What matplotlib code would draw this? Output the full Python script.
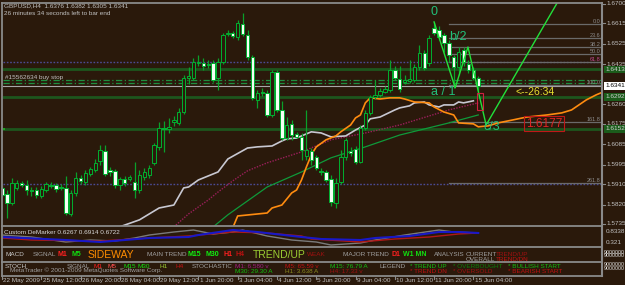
import matplotlib
matplotlib.use('Agg')
import matplotlib.pyplot as plt
from matplotlib.patches import Rectangle
from matplotlib.transforms import blended_transform_factory as blend

W, H = 625, 285
BG = '#2a190b'
plt.rcParams['font.family'] = ['Liberation Sans', 'DejaVu Sans']
NARROW = ['Liberation Sans Narrow', 'Liberation Sans', 'DejaVu Sans']

# ---------------- data ----------------
opens = [1.5893, 1.5867, 1.5827, 1.5893, 1.5915, 1.5906, 1.5884, 1.5884, 1.5858, 1.5884,
         1.5906, 1.5906, 1.5897, 1.5893, 1.5779, 1.5871, 1.5937, 1.5919, 1.5954, 1.5972,
         1.6011, 1.6055, 1.5972, 1.5968, 1.5906, 1.5932, 1.5932, 1.5919, 1.5884, 1.5941,
         1.5950, 1.6003, 1.6073, 1.6156, 1.6152, 1.6182, 1.6178, 1.6226, 1.6375, 1.6375,
         1.6441, 1.6441, 1.6437, 1.6441, 1.6375, 1.6446, 1.6568, 1.6573, 1.6555, 1.6612,
         1.6564, 1.6468, 1.6279, 1.6314, 1.6310, 1.6213, 1.6402, 1.6235, 1.6112, 1.6174,
         1.6130, 1.6117, 1.6033, 1.6055, 1.6029, 1.5968, 1.5963, 1.5932, 1.5827, 1.5919,
         1.6029, 1.6055, 1.6064, 1.6007, 1.6156, 1.6222, 1.6292, 1.6301, 1.6314, 1.6323,
         1.6411, 1.6371, 1.6358, 1.6362, 1.6367, 1.6424, 1.6485, 1.6441, 1.6595, 1.6586,
         1.6564, 1.6529, 1.6468, 1.6424, 1.6498, 1.6437, 1.6411, 1.6376]
highs = [1.5906, 1.5884, 1.5937, 1.5928, 1.5924, 1.5928, 1.5897, 1.5897, 1.5902, 1.5919,
         1.5919, 1.5915, 1.5910, 1.5946, 1.5884, 1.5963, 1.5950, 1.5972, 1.5985, 1.6020,
         1.6082, 1.6082, 1.5985, 1.5976, 1.5941, 1.5946, 1.5950, 1.6007, 1.5972, 1.5981,
         1.5994, 1.6090, 1.6182, 1.6187, 1.6200, 1.6209, 1.6244, 1.6389, 1.6424, 1.6463,
         1.6476, 1.6463, 1.6454, 1.6454, 1.6463, 1.6573, 1.6586, 1.6582, 1.6630, 1.6660,
         1.6586, 1.6476, 1.6323, 1.6332, 1.6323, 1.6411, 1.6411, 1.6275, 1.6204, 1.6191,
         1.6139, 1.6134, 1.6235, 1.6068, 1.6038, 1.5981, 1.5972, 1.5950, 1.5937, 1.6060,
         1.6112, 1.6073, 1.6077, 1.6169, 1.6235, 1.6301, 1.6367, 1.6332, 1.6340, 1.6454,
         1.6428, 1.6428, 1.6389, 1.6454, 1.6437, 1.6520, 1.6498, 1.6564, 1.6621, 1.6604,
         1.6573, 1.6542, 1.6476, 1.6511, 1.6511, 1.6454, 1.6424, 1.6382]
lows = [1.5854, 1.5761, 1.5818, 1.5884, 1.5897, 1.5862, 1.5858, 1.5849, 1.5849, 1.5875,
        1.5893, 1.5875, 1.5884, 1.5775, 1.5770, 1.5858, 1.5910, 1.5906, 1.5946, 1.5963,
        1.5994, 1.5946, 1.5946, 1.5893, 1.5884, 1.5902, 1.5924, 1.5849, 1.5871, 1.5928,
        1.5937, 1.5994, 1.6060, 1.6051, 1.6134, 1.6165, 1.6169, 1.6218, 1.6349, 1.6367,
        1.6428, 1.6411, 1.6419, 1.6358, 1.6323, 1.6437, 1.6560, 1.6551, 1.6542, 1.6560,
        1.6454, 1.6279, 1.6244, 1.6297, 1.6204, 1.6204, 1.6226, 1.6104, 1.6104, 1.6104,
        1.6112, 1.6016, 1.6016, 1.5994, 1.5972, 1.5950, 1.5919, 1.5814, 1.5805, 1.5910,
        1.6016, 1.6033, 1.5998, 1.6003, 1.6147, 1.6213, 1.6283, 1.6292, 1.6310, 1.6314,
        1.6367, 1.6314, 1.6349, 1.6353, 1.6358, 1.6411, 1.6411, 1.6428, 1.6564, 1.6542,
        1.6489, 1.6446, 1.6332, 1.6389, 1.6428, 1.6397, 1.6367, 1.6305]
closes = [1.5862, 1.5827, 1.5915, 1.5915, 1.5906, 1.5884, 1.5880, 1.5862, 1.5889, 1.5910,
          1.5902, 1.5889, 1.5893, 1.5783, 1.5871, 1.5937, 1.5924, 1.5959, 1.5976, 1.6003,
          1.6060, 1.5954, 1.5963, 1.5906, 1.5932, 1.5915, 1.5941, 1.5884, 1.5950, 1.5963,
          1.5981, 1.6082, 1.6156, 1.6152, 1.6161, 1.6191, 1.6226, 1.6375, 1.6384, 1.6446,
          1.6446, 1.6428, 1.6432, 1.6367, 1.6446, 1.6564, 1.6573, 1.6560, 1.6617, 1.6568,
          1.6468, 1.6288, 1.6310, 1.6310, 1.6213, 1.6402, 1.6235, 1.6112, 1.6169, 1.6125,
          1.6117, 1.6060, 1.6060, 1.6016, 1.5981, 1.5963, 1.5928, 1.5832, 1.5915, 1.6029,
          1.6104, 1.6046, 1.6007, 1.6156, 1.6222, 1.6292, 1.6301, 1.6318, 1.6327, 1.6411,
          1.6375, 1.6327, 1.6367, 1.6371, 1.6424, 1.6485, 1.6419, 1.6551, 1.6573, 1.6555,
          1.6529, 1.6476, 1.6424, 1.6489, 1.6446, 1.6411, 1.6375, 1.6341]

time_tick_bars = [0, 8, 16, 24, 32, 40, 48, 56, 64, 72, 80, 88, 96]
time_tick_labels = ['22 May 2009', '25 May 12:00', '26 May 20:00', '28 May 04:00', '29 May 12:00',
                    '1 Jun 20:00', '3 Jun 04:00', '4 Jun 12:00', '5 Jun 20:00', '9 Jun 04:00',
                    '10 Jun 12:00', '11 Jun 20:00', '15 Jun 04:00']

price_ticks = [1.6700, 1.6615, 1.6525, 1.6435, 1.6260, 1.6175, 1.6085, 1.5995, 1.5910, 1.5820, 1.5735]

silver_bars = [23, 28, 32, 35, 37, 38, 40, 44, 46, 50, 52, 55, 57, 58, 60, 63, 65, 67, 70, 72, 74,
               75, 77, 80, 81, 83, 84, 86, 87, 89, 90, 92, 93, 94, 96]
silver_vals = [1.5715, 1.5753, 1.5805, 1.5818, 1.5893, 1.5897, 1.5928, 1.5963, 1.6020, 1.6068,
               1.6073, 1.6077, 1.6099, 1.6108, 1.6112, 1.6139, 1.6134, 1.6117, 1.6121, 1.6147,
               1.6169, 1.6196, 1.6204, 1.6235, 1.6244, 1.6253, 1.6266, 1.6270, 1.6257, 1.6248,
               1.6257, 1.6257, 1.6270, 1.6266, 1.6275]
orange_bars = [47, 48, 54, 55, 57, 59, 60, 61, 62, 63, 64, 66, 68, 69, 71, 72, 73, 74, 75, 77, 79,
               81, 82, 84, 87, 88, 90, 92, 93, 96, 97, 99, 101, 104, 106, 107, 111, 114, 116, 119,
               121, 122]
orange_vals = [1.5718, 1.5770, 1.5783, 1.5805, 1.5818, 1.5871, 1.5884, 1.5928, 1.5985, 1.6038,
               1.6073, 1.6104, 1.6121, 1.6139, 1.6169, 1.6200, 1.6213, 1.6266, 1.6288, 1.6283,
               1.6288, 1.6288, 1.6283, 1.6270, 1.6266, 1.6248, 1.6226, 1.6213, 1.6178, 1.6174,
               1.6161, 1.6165, 1.6178, 1.6191, 1.6200, 1.6204, 1.6213, 1.6222, 1.6235, 1.6279,
               1.6301, 1.6310]
maroon_bars = [35, 38, 42, 44, 47, 50, 54, 61, 67, 74, 81, 91, 97]
maroon_vals = [1.5722, 1.5779, 1.5840, 1.5875, 1.5924, 1.5968, 1.6003, 1.6051, 1.6104, 1.6134,
               1.6169, 1.6235, 1.6266]
green_bars = [43, 46, 54, 61, 67, 74, 81, 91, 97]
green_vals = [1.5722, 1.5775, 1.5897, 1.5963, 1.6025, 1.6073, 1.6125, 1.6178, 1.6213]

zz_bars = [88, 92.3, 94.9, 98.6, 114.6]
zz_prices = [1.6621, 1.6332, 1.6511, 1.6169, 1.6761]
zz_labels = ['0', 'a / 1', 'b/2', 'c/3']
zz_label_pos = [(88.0, 1.6665), (89.8, 1.6314), (92.9, 1.6555), (99.8, 1.6161)]

fib_high, fib_low = 1.6612, 1.6345
fib_levels = [0.0, 23.6, 38.2, 50.0, 61.8, 100.0, 161.8, 261.8]

dotted_levels = [1.6446, 1.5911]
green_levels = [1.6413, 1.6292, 1.6152]
dashdot_levels = [1.6366, 1.6353]
bid = 1.6341
target_price = '1.6177'

dem_blue_bars = [0, 13, 20, 30, 38, 40, 47, 52, 61, 65, 73, 76, 83, 89, 93, 97]
dem_blue = [0.554, 0.414, 0.321, 0.508, 0.554, 0.647, 0.880, 0.787, 0.554, 0.461, 0.414, 0.508,
            0.601, 0.787, 0.787, 0.741]
dem_red_bars = [0, 6, 20, 30, 38, 47, 54, 61, 63, 73, 80, 87, 93, 97]
dem_red = [0.508, 0.414, 0.368, 0.508, 0.601, 0.787, 0.741, 0.601, 0.461, 0.321, 0.461, 0.554,
           0.694, 0.741]
dem_gray_bars = [0, 6, 13, 18, 23, 27, 30, 35, 39, 43, 47, 49, 54, 59, 64, 67, 73, 76, 82, 89, 92, 97]
dem_gray = [0.647, 0.554, 0.321, 0.414, 0.368, 0.508, 0.647, 0.787, 0.880, 0.694, 0.787, 0.880,
            0.601, 0.414, 0.321, 0.181, 0.275, 0.414, 0.647, 0.880, 0.787, 0.741]
dem_ticks = [0.8338, 0.321]

# ---------------- layout ----------------
BAR_PX = 4.91
BAR0_PX = 2.0
LEFT_PX, RIGHT_PX = 2.5, 602.0
XLIM = ((LEFT_PX - BAR0_PX) / BAR_PX, (RIGHT_PX - BAR0_PX) / BAR_PX)
FS = 4.6


def box(x0, y0, x1, y1):
    return [x0 / W, 1 - y1 / H, (x1 - x0) / W, (y1 - y0) / H]


fig = plt.figure(figsize=(W / 100, H / 100), dpi=100, facecolor=BG)

ax = fig.add_axes(box(LEFT_PX, 3, RIGHT_PX, 226))
ax.set_xlim(*XLIM)
ax.set_ylim(1.5726, 1.6704)
ax.axis('off')

axd = fig.add_axes(box(LEFT_PX, 226, RIGHT_PX, 247))
axd.set_xlim(*XLIM)
axd.set_ylim(0.088, 1.067)
axd.axis('off')

ov = fig.add_axes([0, 0, 1, 1], zorder=10)
ov.set_xlim(0, W)
ov.set_ylim(H, 0)
ov.axis('off')
ov.patch.set_visible(False)

GRAY = '#c0c0c0'
DIM = '#a0a0a0'


def small(axis, x, y, s, color=GRAY, fs=FS, **kw):
    return axis.text(x, y, s, color=color, fontsize=fs, family=NARROW, **kw)


# horizontal levels
for p in dotted_levels:
    ax.axhline(p, color='#4b4b95', lw=1, ls=(0, (1.2, 1.2)), zorder=1)
for p in green_levels:
    ax.axhline(p, color='#1d561d', lw=2, zorder=1)
for p in dashdot_levels:
    ax.axhline(p, color='#1f8f3f', lw=0.9, ls=(0, (5, 2, 1, 2)), zorder=1)
ax.axhline(bid, color='#a8a8a8', lw=0.8, zorder=1)

# fibonacci
for lv in fib_levels:
    p = fib_high - lv / 100.0 * (fib_high - fib_low)
    ax.plot([91, XLIM[1]], [p, p], color='#6a6a6a', lw=0.9, zorder=1)
    small(ax, XLIM[1] - 0.3, p, f'{lv:.1f}', color='#c04a90' if lv == 61.8 else '#8c8c8c',
          fs=4.0, ha='right', va='bottom', zorder=2)

# moving averages
ax.plot(green_bars, green_vals, color='#0f9a3a', lw=0.9, zorder=2)
ax.plot(maroon_bars, maroon_vals, color='#9a1f5a', lw=1, ls=(0, (1, 1)), zorder=2)
ax.plot(silver_bars, silver_vals, color='#c8c8d2', lw=1.2, zorder=2)
ax.plot(orange_bars, orange_vals, color='#ff8c10', lw=1.2, zorder=2)

# candles
WICK = '#0aa02a'
for i, (o, h, l, c) in enumerate(zip(opens, highs, lows, closes)):
    ax.vlines(i, l, h, color=WICK, lw=0.9, zorder=3)
    lo, hi = min(o, c), max(o, c)
    bull = c > o
    ax.add_patch(Rectangle((i - 0.35, lo), 0.7, max(hi - lo, 0.00025),
                           facecolor=BG if bull else '#f4fff4',
                           edgecolor='#00b030', lw=0.7, zorder=4))

# zigzag
ax.plot(zz_bars, zz_prices, color='#22e03a', lw=1, zorder=5)
for lab, (bx, py) in zip(zz_labels, zz_label_pos):
    ax.text(bx, py, lab, color='#22c07a', fontsize=9, ha='center', va='center', zorder=6)

# countdown / target box / markers
ax.text(104.5, 1.6314, '<--26:34', color='#e8e030', fontsize=7.5, ha='left', va='center', zorder=6)
ax.text(110.4, 1.6174, target_price, color='#e02424', fontsize=8.5, ha='center', va='center',
        zorder=6, bbox=dict(boxstyle='square,pad=0.12', fc='none', ec='#c01818', lw=0.8))
ax.add_patch(Rectangle((96.8, 1.6235), 1.2, 0.0075, fc='none', ec='#d02040', lw=0.8, zorder=6))
ax.add_patch(Rectangle((0.1, 1.6147), 0.5, 0.0010, fc='#20a020', ec='none', zorder=6))

# DeMarker panel
axd.plot(dem_gray_bars, dem_gray, color='#7a7a7a', lw=1)
axd.plot(dem_red_bars, dem_red, color='#b01818', lw=1)
axd.plot(dem_blue_bars, dem_blue, color='#1818c8', lw=1.5)

# borders
for y in [2.5, 226, 247, 261.5, 276]:
    ov.plot([1.5, 602], [y, y], color='#8a8a8a', lw=1.3)
ov.plot([1.5, 1.5], [2.5, 276], color='#8a8a8a', lw=1.3)
ov.plot([602, 602], [2.5, 276], color='#8a8a8a', lw=1.5)

# right price axis
trp = blend(ov.transData, ax.transData)
for p in price_ticks:
    ov.plot([602, 605], [p, p], transform=trp, color='#8a8a8a', lw=0.8, clip_on=False)
    small(ov, 606, p, f'{p:.4f}', transform=trp, va='center', ha='left')
for p in green_levels:
    small(ov, 605, p, f'{p:.4f}', transform=trp, color='#d0d0d0', va='center', ha='left',
          bbox=dict(boxstyle='square,pad=0.2', fc='#1b5c1b', ec='none'))
small(ov, 605, bid, f'{bid:.4f}', transform=trp, color='black', va='center', ha='left',
      bbox=dict(boxstyle='square,pad=0.2', fc='white', ec='none'))

trd = blend(ov.transData, axd.transData)
for v in dem_ticks:
    small(ov, 606, v, f'{v:.4g}', transform=trd, va='center', ha='left')

# time axis
trt = blend(ax.transData, ov.transData)
for b, lab in zip(time_tick_bars, time_tick_labels):
    ov.plot([b, b], [276, 279], transform=trt, color='#8a8a8a', lw=0.8)
    small(ov, b + 0.25, 280.5, lab, transform=trt, va='center', ha='left')

# header texts
small(ov, 4, 5.5, 'GBPUSD,H4  1.6376 1.6382 1.6305 1.6341', va='center')
small(ov, 4, 13.5, '26 minutes 34 seconds left to bar end', va='center')
small(ov, 5, 77, '#15562634 buy stop', va='center')
small(ov, 4, 232.5, 'Custom DeMarker 0.6267 0.6914 0.6722', color='#d8d8d8', va='center')

# MACD info row
macd_row = [(5, 'MACD', '#c8c8c8', FS, 'normal'), (33, 'SIGNAL', DIM, FS, 'normal'),
            (57, 'M1', '#ff2020', 5, 'bold'), (71, 'M5', '#10e010', 5, 'bold'),
            (88, 'SIDEWAY', '#ff8c00', 7.5, 'normal'), (147, 'MAIN TREND', DIM, FS, 'normal'),
            (187, 'M15', '#10f010', 5, 'bold'), (205, 'M30', '#10f010', 5, 'bold'),
            (223, 'H1', '#ff2020', 5, 'bold'), (235, 'H4', '#c01010', 5, 'bold'),
            (253, 'TREND/UP', '#9acd32', 7.5, 'normal'), (307, 'WEAK', '#a01010', FS, 'normal'),
            (343, 'MAJOR TREND', DIM, FS, 'normal'), (392, 'D1', '#ff2020', 5, 'bold'),
            (403, 'W1 MN', '#10e010', 5, 'bold'), (434, 'ANALYSIS', DIM, FS, 'normal'),
            (466, 'CURRENT', DIM, FS, 'normal'), (496, 'TREND/UP', '#a01010', FS, 'normal')]
for x, t, col, fs, fw in macd_row:
    if fs == FS:
        small(ov, x, 255, t, color=col, va='center', ha='left')
    else:
        ov.text(x, 255, t, color=col, fontsize=fs, fontweight=fw, va='center', ha='left')
small(ov, 466, 259.8, 'OVERALL', color=DIM, va='center')
small(ov, 496, 259.8, 'TREND/DN', color='#c01010', va='center')

# stochastic info rows
stoch_row1 = [(5, 'STOCH', '#c8c8c8'), (67, 'SIGNAL', DIM), (93, 'M1', '#ff2020'),
              (108, 'M5', '#ff5050'), (123, 'M15', '#10e010'), (138, 'M30', '#10e010'),
              (160, 'H1', '#9acd32'), (175, 'H4', '#c01010'), (192, 'STOCHASTIC', DIM),
              (235, 'M1: 6.580 v', '#a02080'), (285, 'M5: 65.59 v', '#c01010'),
              (330, 'M15: 76.79 A', '#10c010'), (380, 'LEGEND', DIM), (410, '* TREND UP', '#10c010'),
              (453, '* OVERBOUGHT', '#0a800a'), (508, '* BULLISH START', '#10c010')]
for x, t, col in stoch_row1:
    small(ov, x, 266.5, t, color=col, va='center', ha='left')
stoch_row2 = [(235, 'M30: 29.30 A', '#10c010'), (285, 'H1: 3.638 A', '#8a8a20'),
              (330, 'H4: 17.33 v', '#a01010'), (410, '* TREND DN', '#c01010'),
              (453, '* OVERSOLD', '#a01010'), (508, '* BEARISH START', '#c01010')]
for x, t, col in stoch_row2:
    small(ov, x, 271.5, t, color=col, va='center', ha='left')
small(ov, 10, 270.5, 'MetaTrader \u00a9 2001-2009 MetaQuotes Software Corp.', color=DIM, va='center')

for y in [252, 255.5, 264.5, 268.5]:
    small(ov, 603.5, y, '9000000', color='#e8e8e8', fs=3.8, va='center', ha='left')

fig.savefig('out.png', dpi=100, facecolor=BG)
